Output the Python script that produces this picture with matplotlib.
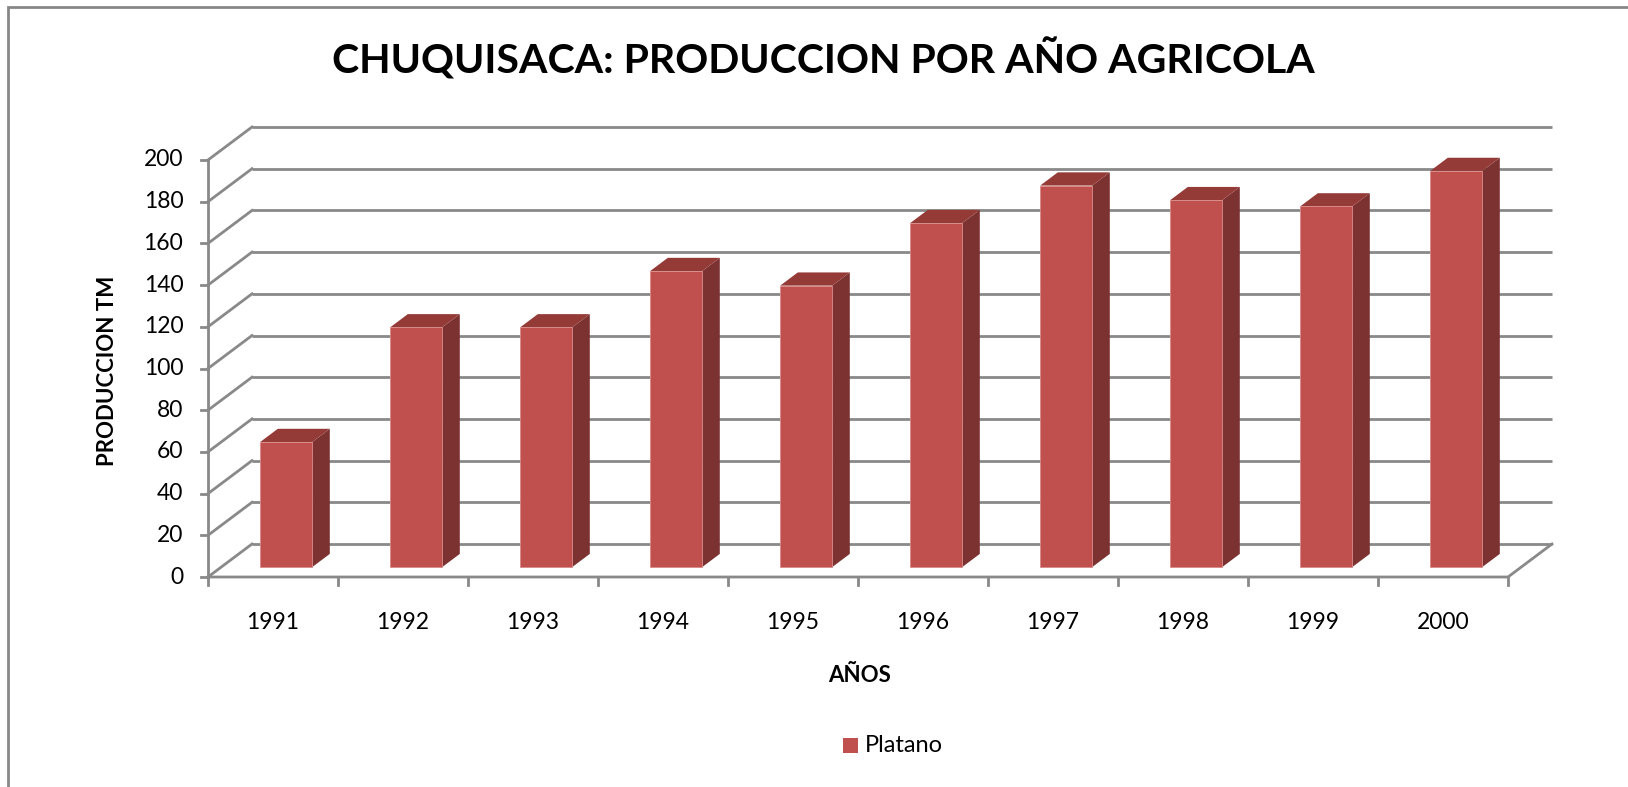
import numpy as np
import matplotlib.pyplot as plt
from matplotlib.patches import Polygon, Rectangle

# Data
years = ["1991", "1992", "1993", "1994", "1995", "1996", "1997", "1998", "1999", "2000"]
platano = [60, 115, 115, 142, 135, 165, 183, 176, 173, 190]
y_ticks = [0, 20, 40, 60, 80, 100, 120, 140, 160, 180, 200]

plt.rcParams['font.family'] = ['Lato', 'DejaVu Sans']

W, H = 1628, 787
fig = plt.figure(figsize=(W / 100, H / 100), dpi=100)
ax = fig.add_axes([0, 0, 1, 1])

# front wall: category 0..10 -> px 208..1508, value 0..200 -> px 577..160
px_per_cat = 130.0
px_per_val = (577 - 160) / 200.0
x0_px, y0_px = 208, 577
ax.set_xlim(-x0_px / px_per_cat, (W - x0_px) / px_per_cat)
ax.set_ylim(-(H - y0_px) / px_per_val, y0_px / px_per_val)
ax.axis("off")

# oblique depth offsets (data units)
dx = 44 / px_per_cat
dy = 33 / px_per_val
n = len(years)
grid_c = "#898989"
lw = 2.0

# back wall gridlines + left wall diagonals
for v in y_ticks:
    ax.plot([dx, n + dx], [v + dy, v + dy], color=grid_c, lw=lw, solid_capstyle="butt", zorder=1)
    ax.plot([0, dx], [v, v + dy], color=grid_c, lw=lw, zorder=1)
    ax.plot([-0.055, 0], [v, v], color=grid_c, lw=lw, zorder=3)
# floor
ax.plot([0, n, n + dx], [0, 0, dy], color=grid_c, lw=lw, zorder=3)
ax.plot([0, 0], [0, 200], color=grid_c, lw=lw, zorder=3)
for i in range(n + 1):
    ax.plot([i, i], [0, -4], color=grid_c, lw=lw, zorder=3)

# bars
face_c, side_c, top_c = "#C0504D", "#7B3230", "#943B38"
f0, f1 = 0.3, 0.7
bw = 0.4
for i, v in enumerate(platano):
    xl = i + 0.5 - bw / 2 + f0 * dx
    xr = xl + bw
    yb = f0 * dy
    ddx, ddy = (f1 - f0) * dx, (f1 - f0) * dy
    ax.add_patch(Polygon([(xr, yb), (xr + ddx, yb + ddy), (xr + ddx, yb + ddy + v), (xr, yb + v)],
                         closed=True, fc=side_c, ec="none", zorder=4))
    ax.add_patch(Polygon([(xl, yb + v), (xr, yb + v), (xr + ddx, yb + v + ddy), (xl + ddx, yb + v + ddy)],
                         closed=True, fc=top_c, ec="none", zorder=4))
    ax.add_patch(Rectangle((xl, yb), bw, v, fc=face_c, ec="#D98A88", lw=0.6, zorder=5))

# tick labels
for v in y_ticks:
    ax.text(-0.19, v, str(v), ha="right", va="center", fontsize=16.5, color="black")
for i, yr in enumerate(years):
    ax.text(i + 0.5, -22, yr, ha="center", va="center", fontsize=16.5, color="black")

# titles
fig.text(823 / W, 1 - 59 / H, "CHUQUISACA: PRODUCCION POR AÑO AGRICOLA",
         ha="center", va="center", fontsize=29.5, fontweight="bold")
fig.text(860 / W, 1 - 675 / H, "AÑOS", ha="center", va="center", fontsize=16, fontweight="bold")
fig.text(107 / W, 1 - 371 / H, "PRODUCCION TM", ha="center", va="center",
         rotation=90, fontsize=16, fontweight="bold")

# legend
fig.patches.append(Rectangle((843 / W, 1 - 753 / H), 15 / W, 15 / H, transform=fig.transFigure,
                             fc=face_c, ec="none"))
fig.text(865 / W, 1 - 746 / H, "Platano", ha="left", va="center", fontsize=17)

# chart border
fig.patches.append(Rectangle((8 / W, -0.1), 1.2, 1 - 7 / H + 0.1, transform=fig.transFigure,
                             fc="none", ec="#878787", lw=2))

fig.savefig("out.png", dpi=100)
